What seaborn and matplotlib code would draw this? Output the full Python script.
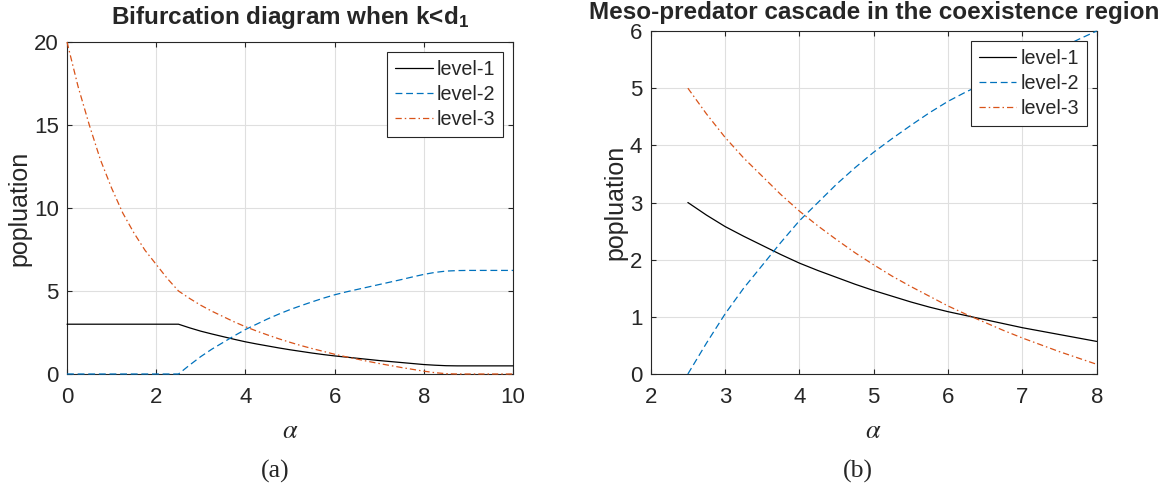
import pandas as pd
import matplotlib
matplotlib.use("Agg")
import matplotlib.pyplot as plt
import seaborn as sns

# values
alpha = [0.0, 0.25, 0.5, 0.75, 1.0, 1.25, 1.5, 1.75, 2.0, 2.25,
         2.5, 2.75, 3.0, 3.25, 3.5, 3.75, 4.0, 4.25, 4.5, 4.75,
         5.0, 5.25, 5.5, 5.75, 6.0, 6.25, 6.5, 6.75, 7.0, 7.25,
         7.5, 7.75, 8.0, 8.25, 8.5, 8.75, 9.0, 10.0]
level_1 = [3.0, 3.0, 3.0, 3.0, 3.0, 3.0, 3.0, 3.0, 3.0, 3.0,
           3.0, 2.78, 2.58, 2.41, 2.25, 2.09, 1.94, 1.81, 1.69, 1.57,
           1.46, 1.36, 1.26, 1.17, 1.09, 1.02, 0.95, 0.88, 0.81, 0.75,
           0.69, 0.63, 0.57, 0.53, 0.50, 0.49, 0.49, 0.49]
level_2 = [0.0, 0.0, 0.0, 0.0, 0.0, 0.0, 0.0, 0.0, 0.0, 0.0,
           0.0, 0.54, 1.05, 1.50, 1.90, 2.30, 2.68, 3.00, 3.32, 3.61,
           3.88, 4.12, 4.35, 4.57, 4.77, 4.94, 5.09, 5.24, 5.39, 5.54,
           5.69, 5.85, 6.00, 6.12, 6.20, 6.23, 6.24, 6.24]
level_3 = [20.0, 17.3, 15.0, 12.9, 11.2, 9.7, 8.5, 7.45, 6.6, 5.75,
           5.0, 4.55, 4.14, 3.78, 3.46, 3.14, 2.85, 2.59, 2.35, 2.12,
           1.91, 1.71, 1.53, 1.36, 1.19, 1.04, 0.90, 0.76, 0.63, 0.51,
           0.39, 0.28, 0.17, 0.08, 0.02, 0.0, 0.0, 0.0]
levels = ["level-1", "level-2", "level-3"]

# coexistence region shown in panel (b)
coex_lo, coex_hi = 2.5, 8.0

wide = pd.DataFrame({"alpha": alpha, "level-1": level_1,
                     "level-2": level_2, "level-3": level_3})
df = wide.melt(id_vars="alpha", var_name="level", value_name="pop")
df_b = df[(df["alpha"] >= coex_lo) & (df["alpha"] <= coex_hi)]

sns.set_style("ticks")
plt.rcParams["font.family"] = ["Liberation Sans", "DejaVu Sans"]
plt.rcParams["mathtext.fontset"] = "custom"
plt.rcParams["mathtext.rm"] = "Liberation Sans"
plt.rcParams["mathtext.bf"] = "Liberation Sans:bold"
plt.rcParams["mathtext.it"] = "Liberation Sans:italic"

palette = {"level-1": "#000000", "level-2": "#0072BD", "level-3": "#D95319"}
dashes = {"level-1": "", "level-2": (5.5, 3.0), "level-3": (5.0, 2.4, 1.2, 2.4)}
edge = "#262626"

fig = plt.figure(figsize=(11.6, 4.97), dpi=100)
ax_a = fig.add_axes([0.05776, 0.24748, 0.38448, 0.66801])
ax_b = fig.add_axes([0.56095, 0.24748, 0.38448, 0.69014])


def draw(ax, data, xlim, ylim, xticks, yticks):
    sns.lineplot(data=data, x="alpha", y="pop", hue="level", style="level",
                 hue_order=levels, style_order=levels, palette=palette,
                 dashes=dashes, estimator=None, linewidth=0.9, ax=ax,
                 zorder=3, clip_on=False)
    ax.set_xlim(*xlim)
    ax.set_ylim(*ylim)
    ax.set_xticks(xticks)
    ax.set_yticks(yticks)
    ax.grid(True, color="#dfdfdf", linewidth=0.8)
    ax.set_axisbelow(True)
    for sp in ax.spines.values():
        sp.set_visible(True)
        sp.set_color(edge)
        sp.set_linewidth(0.8)
    ax.tick_params(direction="in", length=3.6, width=0.8, color=edge,
                   top=True, right=True, labelsize=16, labelcolor=edge)
    ax.tick_params(axis="x", pad=9)
    ax.tick_params(axis="y", pad=6)
    ax.set_ylabel("popluation", fontsize=18, color=edge, labelpad=2)
    ax.set_xlabel(r"$\alpha$", fontsize=19, color=edge, labelpad=8,
                  math_fontfamily="stix")
    handles, labels = ax.get_legend_handles_labels()
    ax.legend(handles, labels, loc="upper right", fontsize=14.2,
              frameon=True, fancybox=False, framealpha=1, edgecolor=edge,
              borderaxespad=0.5, handlelength=1.9, handletextpad=0.2,
              labelspacing=0.32, borderpad=0.4)
    ax.get_legend().get_frame().set_linewidth(0.8)


draw(ax_a, df, (0, 10), (0, 20), range(0, 11, 2), range(0, 21, 5))
draw(ax_b, df_b, (2, 8), (0, 6), range(2, 9), range(0, 7))

ax_a.set_title(r"Bifurcation diagram when k<d$_\mathbf{1}$", fontsize=17.5,
               fontweight="bold", pad=13)
ax_b.set_title("Meso-predator cascade in the coexistence region",
               fontsize=17.5, fontweight="bold", pad=9)

fig.text(275 / 1160, 1 - 471 / 497, "(a)", ha="center", va="center",
         fontsize=18.5, family="Liberation Serif")
fig.text(858 / 1160, 1 - 471 / 497, "(b)", ha="center", va="center",
         fontsize=18.5, family="Liberation Serif")

fig.savefig("out.png", dpi=100)
